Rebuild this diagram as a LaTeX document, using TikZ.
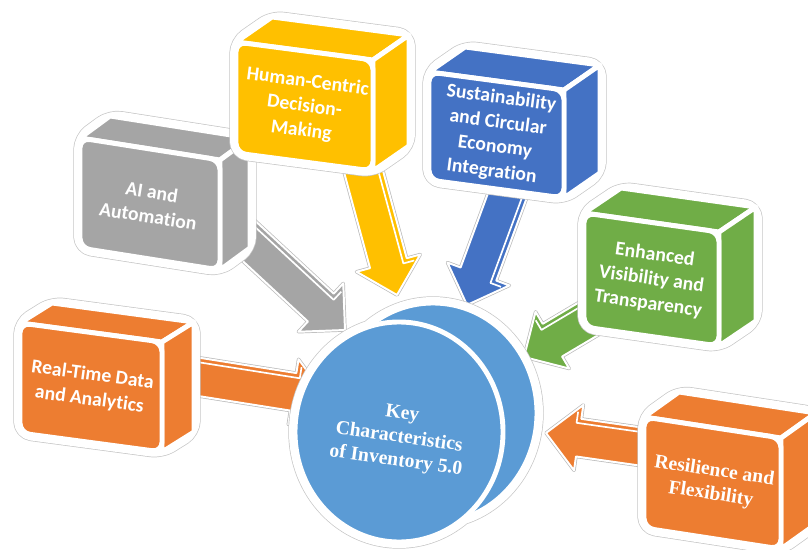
\documentclass[tikz,border=0pt]{standalone}
\usepackage{fontspec}
\setmainfont{Carlito}[Ligatures=NoCommon]
\newfontfamily\timesfont{Liberation Serif}
\usetikzlibrary{calc}
\definecolor{grayc}{HTML}{A5A5A5}
\definecolor{yellowc}{HTML}{FFC000}
\definecolor{bluec}{HTML}{4472C4}
\definecolor{greenc}{HTML}{70AD47}
\definecolor{orangec}{HTML}{ED7D31}
\definecolor{discc}{HTML}{5B9BD5}
% box: name, colour, x, y, width, height, slant, depth x, depth y
\newcommand{\cubebox}[9]{%
	\path (#3,#4) coordinate (#1-tl) ++(#5,#7) coordinate (#1-tr) ++(0,#6) coordinate (#1-br)
	(#3,#4+#6) coordinate (#1-bl)
	(#1-tl) ++(#8,#9) coordinate (#1-btl) (#1-tr) ++(#8,#9) coordinate (#1-btr)
	(#1-br) ++(#8,#9) coordinate (#1-bbr)
	($(#1-tl)!0.5!(#1-br)$) coordinate (#1-c);
	\draw[halo] (#1-tl)--(#1-btl)--(#1-btr)--(#1-bbr)--(#1-br)--(#1-bl)--cycle;
	\filldraw[face=#2] (#1-tl)--(#1-btl)--(#1-btr)--(#1-tr)--cycle;
	\filldraw[face=#2] (#1-tr)--(#1-btr)--(#1-bbr)--(#1-br)--cycle;
	\filldraw[face=#2,rounded corners=7pt] (#1-tl)--(#1-tr)--(#1-br)--(#1-bl)--cycle;
}
% block arrow: tail, tip, colour, side of the light edge
\newcommand{\blockarrow}[4]{%
	\path (#1) coordinate (s) (#2) coordinate (t)
	($(t)!0.825cm!(s)$) coordinate (hb) ($(t)!0.72cm!(s)$) coordinate (hc);
	\filldraw[arrowbody,fill=#3] ($(s)!0.475cm!90:(t)$)--($(hb)!0.475cm!90:(t)$)--($(hb)!0.825cm!90:(t)$)
	--(t)--($(hb)!0.825cm!-90:(t)$)--($(hb)!0.475cm!-90:(t)$)--($(s)!0.475cm!-90:(t)$)--cycle;
	\draw[white,line width=1.2pt,line join=round] ($(s)!0.36cm!#4:(t)$)--($(hc)!0.36cm!#4:(t)$)--($(hc)!0.64cm!#4:(t)$);
}
\begin{document}
\begin{tikzpicture}[x=0.025cm,y=-0.025cm]
	\tikzset{
		halo/.style={draw=white,line width=8.5pt,rounded corners=8pt,line join=round,
			preaction={draw=gray!45,line width=9.5pt,rounded corners=8pt,line join=round}},
		face/.style={fill=#1,draw=white,line width=3.5pt,line join=round},
		arrowbody/.style={draw=white,line width=1.4pt,line join=round,
			preaction={draw=gray!55,line width=2.4pt,line join=round}},
		boxtext/.style={text=white,align=center,font=\fontsize{14}{17.5}\selectfont\bfseries},
		serifbold/.style={text=white,align=center,font=\timesfont\fontsize{14}{16.8}\selectfont\bfseries}
	}
	\useasboundingbox (0,0) rectangle (808,550);
	\path 
	(235,228) coordinate (AIs) (345,330) coordinate (AIt)
	(355,140) coordinate (HCs) (397,295) coordinate (HCt)
	(512,183) coordinate (SCs) (467,305) coordinate (SCt)
	(610,306) coordinate (EVs) (524,357) coordinate (EVt)
	(168,372) coordinate (RTs) (326,397) coordinate (RTt)
	(665,450) coordinate (RFs) (546,433) coordinate (RFt)
	(433,413) coordinate (Kb) (399,432) coordinate (Kf)
	;
	\blockarrow{AIs}{AIt}{grayc}{90}
	\blockarrow{HCs}{HCt}{yellowc}{90}
	\blockarrow{SCs}{SCt}{bluec}{90}
	\blockarrow{EVs}{EVt}{greenc}{-90}
	\blockarrow{RTs}{RTt}{orangec}{90}
	\blockarrow{RFs}{RFt}{orangec}{-90}
	\cubebox{AI}{grayc}{80}{138}{140}{110}{22}{30}{-22}
	\cubebox{HC}{yellowc}{236}{42}{137}{111}{18}{36}{-25}
	\cubebox{SC}{bluec}{429}{72}{135}{108}{18}{36}{-25}
	\cubebox{EV}{greenc}{584}{213}{135}{114}{19}{37}{-25}
	\cubebox{RT}{orangec}{20}{323}{142}{110}{19}{32}{-20}
	\cubebox{RF}{orangec}{644}{417}{137}{111}{21}{35}{-25}
	\node[boxtext,rotate=-9] (AI) at (AI-c) {AI and\\Automation};
	\node[boxtext,rotate=-7.5] (HC) at (HC-c) {Human-Centric\\Decision-\\Making};
	\node[boxtext,rotate=-7.5] (SC) at (SC-c) {Sustainability\\and Circular\\Economy\\Integration};
	\node[boxtext,rotate=-8] (EV) at (EV-c) {Enhanced\\Visibility and\\Transparency};
	\node[boxtext,rotate=-7.5] (RT) at (RT-c) {Real-Time Data\\and Analytics};
	\node[serifbold,rotate=-8.5] (RF) at (RF-c) {Resilience and\\Flexibility};
	% disc
	\draw[halo] (Kb) ellipse [x radius=2.6cm,y radius=2.75cm] (Kf) ellipse [x radius=2.6cm,y radius=2.75cm];
	\filldraw[face=discc] (Kb) ellipse [x radius=2.6cm,y radius=2.75cm];
	\filldraw[face=discc] (Kf) ellipse [x radius=2.6cm,y radius=2.75cm];
	\node[serifbold,rotate=-8] (K) at (399,438) {Key\\Characteristics\\of Inventory 5.0};
\end{tikzpicture}
\end{document}
